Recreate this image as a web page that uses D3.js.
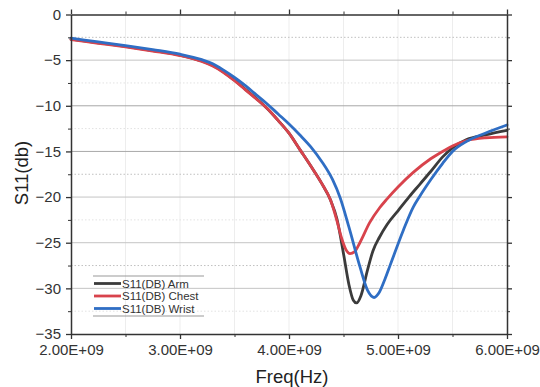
<!DOCTYPE html>
<html><head><meta charset="utf-8">
<script src="https://cdn.jsdelivr.net/npm/d3@7/dist/d3.min.js"></script>
<style>body{margin:0;background:#fff}svg{display:block}text{font-family:"Liberation Sans",Arial,sans-serif}</style>
</head><body><svg id="c" width="540" height="387"></svg>
<script>
const seriesNames = ["S11(DB) Arm", "S11(DB) Chest", "S11(DB) Wrist"];
const seriesColors = ["#3b3b3b", "#d8434c", "#2f6ec4"];
const armFreq = [2.0,2.25,2.5,2.75,3.0,3.2,3.3,3.4,3.5,3.6,3.7,3.8,3.9,4.0,4.1,4.2,4.3,4.38,4.44,4.5,4.55,4.59,4.62,4.66,4.72,4.77,4.83,4.9,5.0,5.1,5.2,5.3,5.41,5.5,5.63,5.8,6.0];
const armS11 = [-2.7,-3.1,-3.5,-3.95,-4.45,-5.1,-5.6,-6.3,-7.2,-8.2,-9.2,-10.3,-11.6,-13.0,-14.8,-16.6,-18.5,-20.3,-22.4,-26.2,-29.6,-31.3,-31.6,-30.8,-28.0,-25.9,-24.4,-23.0,-21.5,-20.0,-18.6,-17.2,-15.6,-14.6,-13.7,-13.2,-12.7];
const chestFreq = [2.0,2.25,2.5,2.75,3.0,3.2,3.3,3.4,3.5,3.6,3.7,3.8,3.9,4.0,4.1,4.2,4.3,4.38,4.44,4.48,4.52,4.56,4.6,4.65,4.74,4.83,4.9,5.0,5.14,5.3,5.41,5.5,5.63,5.8,6.0];
const chestS11 = [-2.75,-3.15,-3.55,-4.0,-4.5,-5.15,-5.65,-6.35,-7.25,-8.25,-9.25,-10.3,-11.6,-13.0,-14.8,-16.6,-18.5,-20.3,-22.6,-24.4,-25.7,-26.2,-26.0,-25.0,-22.8,-21.2,-20.2,-18.9,-17.3,-15.8,-15.0,-14.4,-13.8,-13.5,-13.4];
const wristFreq = [2.0,2.25,2.5,2.75,3.0,3.2,3.3,3.4,3.5,3.6,3.7,3.8,3.9,4.0,4.1,4.2,4.3,4.4,4.47,4.55,4.65,4.72,4.78,4.83,4.88,4.93,5.05,5.14,5.2,5.3,5.41,5.5,5.63,5.8,6.0];
const wristS11 = [-2.6,-3.0,-3.4,-3.85,-4.35,-4.95,-5.4,-6.1,-6.9,-7.8,-8.8,-9.8,-10.9,-12.0,-13.2,-14.5,-16.1,-18.1,-20.1,-23.3,-27.6,-30.2,-31.0,-30.4,-29.0,-27.4,-23.6,-21.1,-19.9,-18.1,-16.3,-15.0,-13.9,-13.0,-12.1];
const xTicks = [2e9, 3e9, 4e9, 5e9, 6e9];
const yTicks = [0, -5, -10, -15, -20, -25, -30, -35];
const xLabel = "Freq(Hz)";
const yLabel = "S11(db)";

const svg = d3.select("#c");
const L = 71, R = 507, T = 14.5, B = 334;
const x = d3.scaleLinear().domain([2e9, 6e9]).range([L, R]);
const y = d3.scaleLinear().domain([-35, 0]).range([B, T]);

// grid
const xMinor = d3.range(2.5e9, 6e9, 1e9);
svg.append("g").selectAll("line").data(xTicks.slice(1, -1).concat(xMinor)).join("line")
  .attr("x1", d => x(d)).attr("x2", d => x(d)).attr("y1", T).attr("y2", B)
  .attr("stroke", "#ededed").attr("stroke-width", 1);
const yMinor = d3.range(-2.5, -35, -5);
svg.append("g").selectAll("line").data(yMinor).join("line")
  .attr("x1", L).attr("x2", R).attr("y1", d => y(d)).attr("y2", d => y(d))
  .attr("stroke", d => (d === -2.5 || d === -17.5 || d === -27.5) ? "#c0c0c0" : "#e2e2e2")
  .attr("stroke-width", 1).attr("stroke-dasharray", "1.5,2");
svg.append("g").selectAll("line").data(yTicks.slice(1, -1)).join("line")
  .attr("x1", L).attr("x2", R).attr("y1", d => y(d)).attr("y2", d => y(d))
  .attr("stroke", d => (d === -10 || d === -15) ? "#a8a8a8" : "#c4c4c4").attr("stroke-width", 1);

// curves
const line = d3.line().x(d => x(d[0] * 1e9)).y(d => y(d[1])).curve(d3.curveMonotoneX);
const sets = [[armFreq, armS11], [chestFreq, chestS11], [wristFreq, wristS11]];
sets.forEach((s, i) => {
  svg.append("path").datum(s[0].map((f, j) => [f, s[1][j]]))
    .attr("d", line).attr("fill", "none").attr("stroke", seriesColors[i])
    .attr("stroke-width", 2.8).attr("stroke-linejoin", "round").attr("stroke-linecap", "round");
});

// axes
const fmt = d => (d / 1e9).toFixed(2) + "E+09";
const yfmt = d => d === 0 ? "0" : "\u2212" + Math.abs(d);
function styleAxis(g) {
  g.select(".domain").attr("stroke", "#333").attr("stroke-width", 1.5);
  g.selectAll(".tick line").attr("stroke", "#333").attr("stroke-width", 1.3);
  g.selectAll("text").attr("fill", "#333").attr("font-size", 15);
}
function minor(g) { g.select(".domain").remove(); g.selectAll("line").attr("stroke", "#333"); }
const gb = svg.append("g").attr("transform", `translate(0,${B})`)
  .call(d3.axisBottom(x).tickValues(xTicks).tickFormat(fmt).tickSize(5).tickSizeOuter(0).tickPadding(5));
styleAxis(gb);
svg.append("g").attr("transform", `translate(0,${B})`)
  .call(d3.axisBottom(x).tickValues(xMinor).tickFormat("").tickSize(3).tickSizeOuter(0)).call(minor);
const gt = svg.append("g").attr("transform", `translate(0,${T})`)
  .call(d3.axisTop(x).tickValues(xTicks).tickFormat("").tickSize(5).tickSizeOuter(0));
styleAxis(gt);
svg.append("g").attr("transform", `translate(0,${T})`)
  .call(d3.axisTop(x).tickValues(xMinor).tickFormat("").tickSize(3).tickSizeOuter(0)).call(minor);
const gl = svg.append("g").attr("transform", `translate(${L},0)`)
  .call(d3.axisLeft(y).tickValues(yTicks).tickFormat(yfmt).tickSize(5).tickSizeOuter(0).tickPadding(5));
styleAxis(gl);
svg.append("g").attr("transform", `translate(${L},0)`)
  .call(d3.axisLeft(y).tickValues(yMinor).tickFormat("").tickSize(3).tickSizeOuter(0)).call(minor);
const gr = svg.append("g").attr("transform", `translate(${R},0)`)
  .call(d3.axisRight(y).tickValues(yTicks).tickFormat("").tickSize(5).tickSizeOuter(0));
styleAxis(gr);
svg.append("g").attr("transform", `translate(${R},0)`)
  .call(d3.axisRight(y).tickValues(yMinor).tickFormat("").tickSize(3).tickSizeOuter(0)).call(minor);

// labels
svg.append("text").attr("x", 292).attr("y", 383).attr("text-anchor", "middle")
  .attr("font-size", 18.5).attr("fill", "#222").text(xLabel);
svg.append("text").attr("transform", "translate(28,173) rotate(-90)").attr("text-anchor", "middle")
  .attr("font-size", 18.5).attr("fill", "#222").text(yLabel);

// legend
const lg = svg.append("g");
lg.append("line").attr("x1", 93).attr("x2", 204).attr("y1", 276).attr("y2", 276).attr("stroke", "#999").attr("stroke-width", 1);
lg.append("line").attr("x1", 93).attr("x2", 204).attr("y1", 316).attr("y2", 316).attr("stroke", "#999").attr("stroke-width", 1);
seriesNames.forEach((n, i) => {
  const yy = 283.5 + i * 12.5;
  lg.append("line").attr("x1", 94).attr("x2", 121).attr("y1", yy).attr("y2", yy)
    .attr("stroke", seriesColors[i]).attr("stroke-width", 2.8);
  lg.append("text").attr("x", 122).attr("y", yy + 4).attr("font-size", 11.5).attr("fill", "#333").text(n);
});
</script></body></html>
